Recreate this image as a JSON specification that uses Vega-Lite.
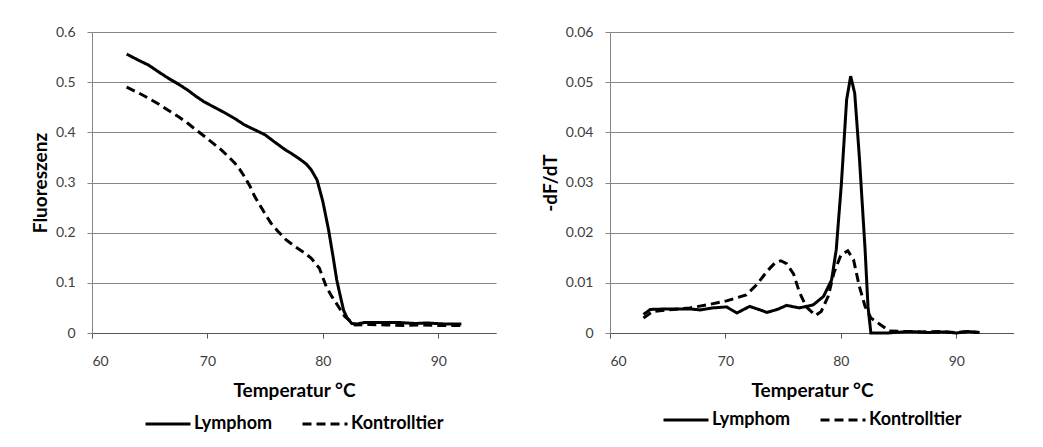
{
  "$schema": "https://vega.github.io/schema/vega-lite/v6.json",
  "background": "white",
  "padding": {"left": 31, "top": 25, "right": 0, "bottom": 0},
  "spacing": 45,
  "datasets": {
    "fluor": [
      {"T": 63.0, "F": 0.556, "Serie": "Lymphom"},
      {"T": 64.0, "F": 0.544, "Serie": "Lymphom"},
      {"T": 64.9, "F": 0.534, "Serie": "Lymphom"},
      {"T": 65.8, "F": 0.520, "Serie": "Lymphom"},
      {"T": 66.6, "F": 0.508, "Serie": "Lymphom"},
      {"T": 67.5, "F": 0.496, "Serie": "Lymphom"},
      {"T": 68.3, "F": 0.484, "Serie": "Lymphom"},
      {"T": 69.0, "F": 0.472, "Serie": "Lymphom"},
      {"T": 69.7, "F": 0.461, "Serie": "Lymphom"},
      {"T": 70.6, "F": 0.450, "Serie": "Lymphom"},
      {"T": 71.5, "F": 0.439, "Serie": "Lymphom"},
      {"T": 72.4, "F": 0.427, "Serie": "Lymphom"},
      {"T": 73.2, "F": 0.415, "Serie": "Lymphom"},
      {"T": 74.1, "F": 0.405, "Serie": "Lymphom"},
      {"T": 75.0, "F": 0.395, "Serie": "Lymphom"},
      {"T": 75.8, "F": 0.381, "Serie": "Lymphom"},
      {"T": 76.7, "F": 0.366, "Serie": "Lymphom"},
      {"T": 77.4, "F": 0.356, "Serie": "Lymphom"},
      {"T": 78.1, "F": 0.345, "Serie": "Lymphom"},
      {"T": 78.6, "F": 0.336, "Serie": "Lymphom"},
      {"T": 79.0, "F": 0.325, "Serie": "Lymphom"},
      {"T": 79.5, "F": 0.305, "Serie": "Lymphom"},
      {"T": 80.0, "F": 0.262, "Serie": "Lymphom"},
      {"T": 80.5, "F": 0.205, "Serie": "Lymphom"},
      {"T": 80.9, "F": 0.150, "Serie": "Lymphom"},
      {"T": 81.2, "F": 0.106, "Serie": "Lymphom"},
      {"T": 81.5, "F": 0.075, "Serie": "Lymphom"},
      {"T": 81.8, "F": 0.045, "Serie": "Lymphom"},
      {"T": 82.1, "F": 0.030, "Serie": "Lymphom"},
      {"T": 82.5, "F": 0.019, "Serie": "Lymphom"},
      {"T": 83.0, "F": 0.018, "Serie": "Lymphom"},
      {"T": 83.6, "F": 0.021, "Serie": "Lymphom"},
      {"T": 85.0, "F": 0.021, "Serie": "Lymphom"},
      {"T": 86.5, "F": 0.021, "Serie": "Lymphom"},
      {"T": 88.0, "F": 0.019, "Serie": "Lymphom"},
      {"T": 89.0, "F": 0.020, "Serie": "Lymphom"},
      {"T": 90.5, "F": 0.018, "Serie": "Lymphom"},
      {"T": 92.0, "F": 0.018, "Serie": "Lymphom"},
      {"T": 63.0, "F": 0.490, "Serie": "Kontrolltier"},
      {"T": 64.0, "F": 0.479, "Serie": "Kontrolltier"},
      {"T": 64.9, "F": 0.468, "Serie": "Kontrolltier"},
      {"T": 65.8, "F": 0.456, "Serie": "Kontrolltier"},
      {"T": 66.6, "F": 0.444, "Serie": "Kontrolltier"},
      {"T": 67.5, "F": 0.431, "Serie": "Kontrolltier"},
      {"T": 68.3, "F": 0.418, "Serie": "Kontrolltier"},
      {"T": 69.0, "F": 0.405, "Serie": "Kontrolltier"},
      {"T": 69.8, "F": 0.391, "Serie": "Kontrolltier"},
      {"T": 70.5, "F": 0.378, "Serie": "Kontrolltier"},
      {"T": 71.2, "F": 0.365, "Serie": "Kontrolltier"},
      {"T": 71.8, "F": 0.352, "Serie": "Kontrolltier"},
      {"T": 72.4, "F": 0.338, "Serie": "Kontrolltier"},
      {"T": 72.8, "F": 0.326, "Serie": "Kontrolltier"},
      {"T": 73.2, "F": 0.312, "Serie": "Kontrolltier"},
      {"T": 73.7, "F": 0.292, "Serie": "Kontrolltier"},
      {"T": 74.1, "F": 0.272, "Serie": "Kontrolltier"},
      {"T": 74.8, "F": 0.245, "Serie": "Kontrolltier"},
      {"T": 75.5, "F": 0.219, "Serie": "Kontrolltier"},
      {"T": 76.1, "F": 0.203, "Serie": "Kontrolltier"},
      {"T": 76.8, "F": 0.186, "Serie": "Kontrolltier"},
      {"T": 77.6, "F": 0.172, "Serie": "Kontrolltier"},
      {"T": 78.4, "F": 0.160, "Serie": "Kontrolltier"},
      {"T": 79.0, "F": 0.149, "Serie": "Kontrolltier"},
      {"T": 79.7, "F": 0.129, "Serie": "Kontrolltier"},
      {"T": 80.3, "F": 0.092, "Serie": "Kontrolltier"},
      {"T": 80.8, "F": 0.072, "Serie": "Kontrolltier"},
      {"T": 81.2, "F": 0.058, "Serie": "Kontrolltier"},
      {"T": 81.9, "F": 0.033, "Serie": "Kontrolltier"},
      {"T": 82.8, "F": 0.016, "Serie": "Kontrolltier"},
      {"T": 84.0, "F": 0.017, "Serie": "Kontrolltier"},
      {"T": 85.5, "F": 0.016, "Serie": "Kontrolltier"},
      {"T": 87.0, "F": 0.015, "Serie": "Kontrolltier"},
      {"T": 88.5, "F": 0.016, "Serie": "Kontrolltier"},
      {"T": 90.0, "F": 0.015, "Serie": "Kontrolltier"},
      {"T": 92.0, "F": 0.015, "Serie": "Kontrolltier"}
    ],
    "deriv": [
      {"T": 62.9, "D": 0.0037, "Serie": "Lymphom"},
      {"T": 63.5, "D": 0.0047, "Serie": "Lymphom"},
      {"T": 65.0, "D": 0.0048, "Serie": "Lymphom"},
      {"T": 66.9, "D": 0.0048, "Serie": "Lymphom"},
      {"T": 67.8, "D": 0.0046, "Serie": "Lymphom"},
      {"T": 68.9, "D": 0.0050, "Serie": "Lymphom"},
      {"T": 70.1, "D": 0.0052, "Serie": "Lymphom"},
      {"T": 71.0, "D": 0.0040, "Serie": "Lymphom"},
      {"T": 72.1, "D": 0.0053, "Serie": "Lymphom"},
      {"T": 73.0, "D": 0.0046, "Serie": "Lymphom"},
      {"T": 73.6, "D": 0.0041, "Serie": "Lymphom"},
      {"T": 74.5, "D": 0.0047, "Serie": "Lymphom"},
      {"T": 75.3, "D": 0.0055, "Serie": "Lymphom"},
      {"T": 76.4, "D": 0.0050, "Serie": "Lymphom"},
      {"T": 77.6, "D": 0.0056, "Serie": "Lymphom"},
      {"T": 78.5, "D": 0.0073, "Serie": "Lymphom"},
      {"T": 79.2, "D": 0.0106, "Serie": "Lymphom"},
      {"T": 79.6, "D": 0.0166, "Serie": "Lymphom"},
      {"T": 80.05, "D": 0.0299, "Serie": "Lymphom"},
      {"T": 80.5, "D": 0.0465, "Serie": "Lymphom"},
      {"T": 80.85, "D": 0.0512, "Serie": "Lymphom"},
      {"T": 81.2, "D": 0.0478, "Serie": "Lymphom"},
      {"T": 81.6, "D": 0.0352, "Serie": "Lymphom"},
      {"T": 82.1, "D": 0.0166, "Serie": "Lymphom"},
      {"T": 82.35, "D": 0.0053, "Serie": "Lymphom"},
      {"T": 82.6, "D": 0.0, "Serie": "Lymphom"},
      {"T": 84.0, "D": 0.0, "Serie": "Lymphom"},
      {"T": 86.0, "D": 0.0003, "Serie": "Lymphom"},
      {"T": 87.5, "D": 0.0001, "Serie": "Lymphom"},
      {"T": 89.0, "D": 0.0002, "Serie": "Lymphom"},
      {"T": 90.0, "D": 0.0, "Serie": "Lymphom"},
      {"T": 91.0, "D": 0.0003, "Serie": "Lymphom"},
      {"T": 92.0, "D": 0.0001, "Serie": "Lymphom"},
      {"T": 62.9, "D": 0.0030, "Serie": "Kontrolltier"},
      {"T": 63.7, "D": 0.0043, "Serie": "Kontrolltier"},
      {"T": 65.5, "D": 0.0047, "Serie": "Kontrolltier"},
      {"T": 66.9, "D": 0.0050, "Serie": "Kontrolltier"},
      {"T": 68.4, "D": 0.0056, "Serie": "Kontrolltier"},
      {"T": 70.1, "D": 0.0064, "Serie": "Kontrolltier"},
      {"T": 71.8, "D": 0.0076, "Serie": "Kontrolltier"},
      {"T": 72.7, "D": 0.0096, "Serie": "Kontrolltier"},
      {"T": 73.6, "D": 0.0123, "Serie": "Kontrolltier"},
      {"T": 74.3, "D": 0.0140, "Serie": "Kontrolltier"},
      {"T": 74.8, "D": 0.0144, "Serie": "Kontrolltier"},
      {"T": 75.3, "D": 0.0138, "Serie": "Kontrolltier"},
      {"T": 75.9, "D": 0.0118, "Serie": "Kontrolltier"},
      {"T": 76.4, "D": 0.0082, "Serie": "Kontrolltier"},
      {"T": 77.0, "D": 0.0052, "Serie": "Kontrolltier"},
      {"T": 77.8, "D": 0.0035, "Serie": "Kontrolltier"},
      {"T": 78.3, "D": 0.0043, "Serie": "Kontrolltier"},
      {"T": 78.9, "D": 0.0073, "Serie": "Kontrolltier"},
      {"T": 79.4, "D": 0.0120, "Serie": "Kontrolltier"},
      {"T": 80.0, "D": 0.0155, "Serie": "Kontrolltier"},
      {"T": 80.6, "D": 0.0164, "Serie": "Kontrolltier"},
      {"T": 81.1, "D": 0.0146, "Serie": "Kontrolltier"},
      {"T": 81.6, "D": 0.0093, "Serie": "Kontrolltier"},
      {"T": 82.1, "D": 0.0053, "Serie": "Kontrolltier"},
      {"T": 82.6, "D": 0.0030, "Serie": "Kontrolltier"},
      {"T": 83.4, "D": 0.0017, "Serie": "Kontrolltier"},
      {"T": 84.2, "D": 0.0004, "Serie": "Kontrolltier"},
      {"T": 85.5, "D": 0.0003, "Serie": "Kontrolltier"},
      {"T": 87.0, "D": 0.0002, "Serie": "Kontrolltier"},
      {"T": 88.5, "D": 0.0003, "Serie": "Kontrolltier"},
      {"T": 90.0, "D": 0.0001, "Serie": "Kontrolltier"},
      {"T": 91.0, "D": 0.0003, "Serie": "Kontrolltier"},
      {"T": 92.0, "D": 0.0001, "Serie": "Kontrolltier"}
    ]
  },
  "hconcat": [
    {
      "width": 404,
      "height": 301,
      "data": {"name": "fluor"},
      "mark": {"type": "line", "stroke": "black", "strokeWidth": 3},
      "encoding": {
        "x": {"field": "T", "type": "quantitative", "scale": {"domain": [60, 95], "nice": false}, "axis": {"values": [60, 70, 80, 90], "title": "Temperatur °C", "grid": false}},
        "y": {"field": "F", "type": "quantitative", "scale": {"domain": [0, 0.6], "nice": false}, "axis": {"values": [0, 0.1, 0.2, 0.3, 0.4, 0.5, 0.6], "title": "Fluoreszenz", "labelExpr": "datum.value == 0 ? '0' : format(datum.value, '.1f')"}},
        "strokeDash": {"field": "Serie", "type": "nominal", "scale": {"domain": ["Lymphom", "Kontrolltier"], "range": [[1, 0], [9, 5]]}, "legend": {"offset": 0}}
      }
    },
    {
      "width": 404,
      "height": 301,
      "data": {"name": "deriv"},
      "mark": {"type": "line", "stroke": "black", "strokeWidth": 3},
      "encoding": {
        "x": {"field": "T", "type": "quantitative", "scale": {"domain": [60, 95], "nice": false}, "axis": {"values": [60, 70, 80, 90], "title": "Temperatur °C", "grid": false}},
        "y": {"field": "D", "type": "quantitative", "scale": {"domain": [0, 0.06], "nice": false}, "axis": {"values": [0, 0.01, 0.02, 0.03, 0.04, 0.05, 0.06], "title": "-dF/dT", "labelExpr": "datum.value == 0 ? '0' : format(datum.value, '.2f')"}},
        "strokeDash": {"field": "Serie", "type": "nominal", "scale": {"domain": ["Lymphom", "Kontrolltier"], "range": [[1, 0], [9, 5]]}, "legend": {"offset": -4}}
      }
    }
  ],
  "resolve": {"scale": {"strokeDash": "independent"}, "legend": {"strokeDash": "independent"}},
  "config": {
    "view": {"stroke": null},
    "font": "Lato",
    "axis": {
      "labelFont": "Lato",
      "labelFontSize": 14,
      "labelColor": "#404040",
      "titleFont": "Lato",
      "titleFontSize": 19,
      "titleFontWeight": "bold",
      "titleColor": "#000000",
      "tickSize": 5,
      "tickColor": "#868686",
      "domainColor": "#868686",
      "gridColor": "#868686",
      "gridWidth": 1
    },
    "axisX": {"labelPadding": 16, "titlePadding": 13, "domainColor": "#555555", "tickColor": "#555555"},
    "axisY": {"labelPadding": 12, "titlePadding": 5, "grid": true},
    "legend": {
      "orient": "bottom",
      "direction": "horizontal",
      "title": null,
      "symbolType": "stroke",
      "symbolSize": 2025,
      "symbolStrokeWidth": 3,
      "symbolStrokeColor": "black",
      "labelFont": "Lato",
      "labelFontSize": 18,
      "labelFontWeight": "bold",
      "labelColor": "#000000",
      "labelOffset": 2,
      "columnPadding": 23,
      "layout": {"bottom": {"anchor": "middle"}}
    }
  }
}
